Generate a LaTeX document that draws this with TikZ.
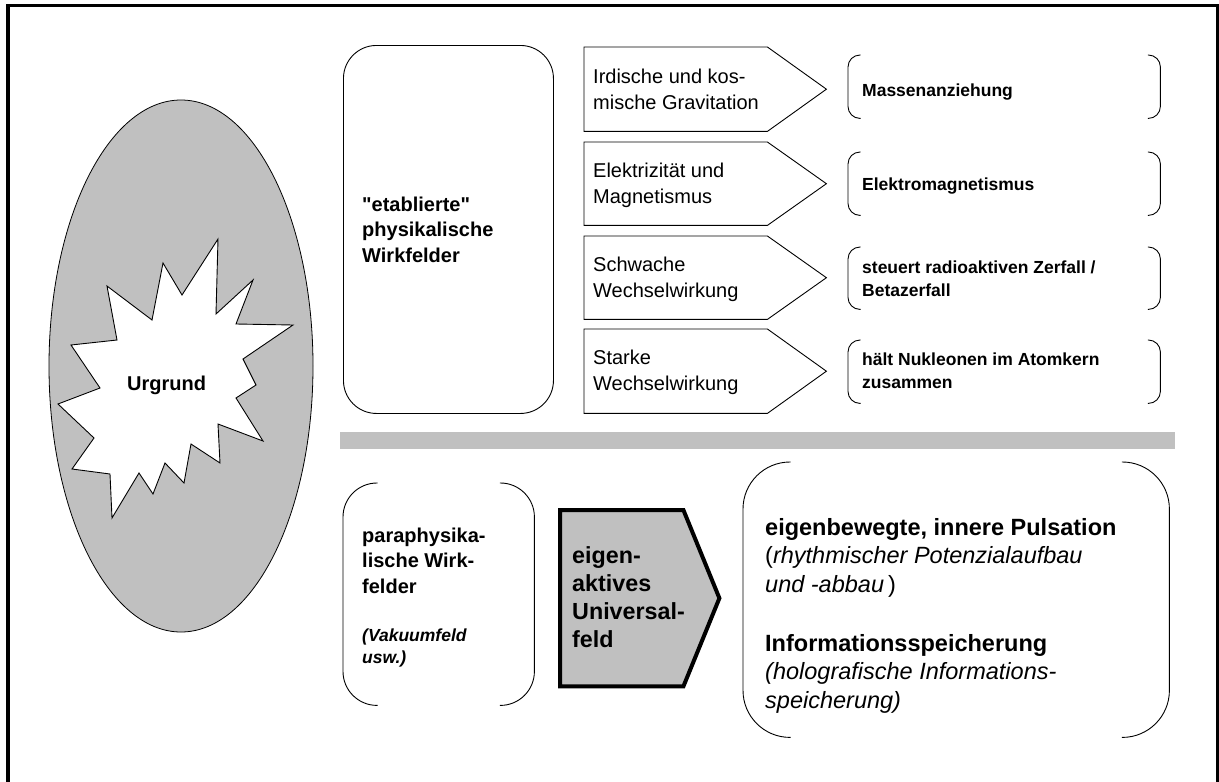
\documentclass[tikz,border=0pt]{standalone}
\usepackage{fontspec}
\setmainfont{Liberation Sans}
% same family without TeX ligatures, for straight double quotes
\newfontfamily\rawsans{Liberation Sans}
\usetikzlibrary{shapes.geometric}
\definecolor{panelgray}{RGB}{192,192,192}

% side brackets: only the rounded left and right edges of a box
\newcommand{\sidebrackets}[2]{%
  \draw[outline, rounded corners=#2] ([xshift=#2+0.6pt]#1.north west) -- (#1.north west)
       -- (#1.south west) -- ([xshift=#2+0.6pt]#1.south west);
  \draw[outline, rounded corners=#2] ([xshift=-#2-0.6pt]#1.north east) -- (#1.north east)
       -- (#1.south east) -- ([xshift=-#2-0.6pt]#1.south east);}

% pentagon arrow built around a rectangular node
\newcommand{\arrowbox}[2]{%
  \draw[#2] (#1.north west) -- (#1.north east) -- ([xshift=59pt]#1.east)
       -- (#1.south east) -- (#1.south west) -- cycle;}

\newcommand{\sq}{{\rawsans\bfseries\char34}}

\begin{document}
\begin{tikzpicture}[x=1pt,y=-1pt,
  outline/.style={line width=0.9pt, draw=black},
  frame/.style={draw=none, inner sep=0pt, anchor=north west},
  % multi-line labels are placed by the baseline of their last line
  label/.style={anchor=base west, inner sep=0pt, align=left},
  reg20/.style={label, font=\fontsize{20}{26}\selectfont},
  bold20/.style={label, font=\fontsize{20}{25.5}\selectfont\bfseries},
  bold17/.style={label, font=\fontsize{17.5}{22.5}\selectfont\bfseries},
  boldit17/.style={label, font=\fontsize{17.5}{22}\selectfont\bfseries\itshape},
  bold23/.style={label, font=\fontsize{23.3}{27.8}\selectfont\bfseries},
  text23/.style={label, font=\fontsize{23.5}{28.3}\selectfont},
]
\useasboundingbox (0,0) rectangle (1219,782);

% outer frame (open at the bottom)
\draw[line width=3.5pt] (8,790) -- (8,5.5) -- (1217.5,5.5) -- (1217.5,790);

% Urgrund: grey ellipse with a white starburst
\node[ellipse, draw=black, line width=0.8pt, fill=panelgray, inner sep=0pt,
      minimum width=264pt, minimum height=532pt] (sphere) at (181,366) {};
\draw[outline, fill=white] (107,286) -- (117,340) -- (71,345) -- (100,388) -- (58,404)
  -- (94,438) -- (72,469) -- (110,474) -- (112,518) -- (139,473) -- (153,494)
  -- (165,463) -- (184,483) -- (191,444) -- (220,463) -- (218,424) -- (263,441)
  -- (236,398) -- (256,385) -- (243,359) -- (293,325) -- (236,324) -- (253,280)
  -- (216,314) -- (218,239) -- (182,295) -- (163,263) -- (152,320) -- cycle;
\node[bold20] (urgrund) at (127,390) {Urgrund};

% established fields
\node[frame, draw=black, line width=0.9pt, rounded corners=33pt,
      minimum width=210pt, minimum height=368pt] (estab) at (343,45) {};
\node[bold20] (estabtxt) at (362,262) {\sq etablierte\sq\\physikalische\\Wirkfelder};

% the four interactions
\node[frame, minimum width=183pt, minimum height=84pt] (f1) at (584,47) {};
\node[frame, minimum width=183pt, minimum height=83pt] (f2) at (584,142) {};
\node[frame, minimum width=183pt, minimum height=83pt] (f3) at (584,236) {};
\node[frame, minimum width=183pt, minimum height=84pt] (f4) at (584,329) {};
\arrowbox{f1}{outline}
\arrowbox{f2}{outline}
\arrowbox{f3}{outline}
\arrowbox{f4}{outline}
\node[reg20] (t1) at (593,109) {Irdische und kos-\\mische Gravitation};
\node[reg20] (t2) at (593,203) {Elektrizität und\\Magnetismus};
\node[reg20] (t3) at (593,297) {Schwache\\Wechselwirkung};
\node[reg20] (t4) at (593,390) {Starke\\Wechselwirkung};

% their effects
\node[frame, minimum width=312pt, minimum height=63pt] (e1) at (848,55) {};
\node[frame, minimum width=312pt, minimum height=63pt] (e2) at (848,152) {};
\node[frame, minimum width=312pt, minimum height=62pt] (e3) at (848,247) {};
\node[frame, minimum width=312pt, minimum height=63pt] (e4) at (848,340) {};
\sidebrackets{e1}{12pt}
\sidebrackets{e2}{12pt}
\sidebrackets{e3}{12pt}
\sidebrackets{e4}{12pt}
\node[bold17] (m1) at (862,96) {Massenanziehung};
\node[bold17] (m2) at (862,190) {Elektromagnetismus};
\node[bold17] (m3) at (862,296) {steuert radioaktiven Zerfall /\\Betazerfall};
\node[bold17] (m4) at (862,388) {hält Nukleonen im Atomkern\\zusammen};

% divider
\node[frame, fill=panelgray, minimum width=835pt, minimum height=17pt] (divider) at (340,432) {};

% paraphysical fields
\node[frame, minimum width=191pt, minimum height=222pt] (para) at (343,483) {};
\sidebrackets{para}{34pt}
\node[bold20] (paratxt) at (362,593) {paraphysika-\\lische Wirk-\\felder};
\node[boldit17] (paranote) at (362,663) {(Vakuumfeld\\usw.)};

% self-active universal field
\node[frame, minimum width=123pt, minimum height=176pt] (core) at (560,510) {};
\draw[line width=4pt, fill=panelgray] (core.north west) -- (core.north east)
  -- ([xshift=36pt]core.east) -- (core.south east) -- (core.south west) -- cycle;
\node[bold23] (coretxt) at (572,647) {eigen-\\aktives\\Universal-\\feld};

% its properties
\node[frame, minimum width=426pt, minimum height=275pt] (props) at (743,462) {};
\sidebrackets{props}{47pt}
\node[text23] (pulse) at (765,592) {\textbf{eigenbewegte, innere Pulsation}\\(\textit{rhythmischer Potenzialaufbau}\\\textit{und -abbau}\,)};
\node[text23] (info) at (765,708) {\textbf{Informationsspeicherung}\\\textit{(holografische Informations-}\\\textit{speicherung)}};
\end{tikzpicture}
\end{document}
